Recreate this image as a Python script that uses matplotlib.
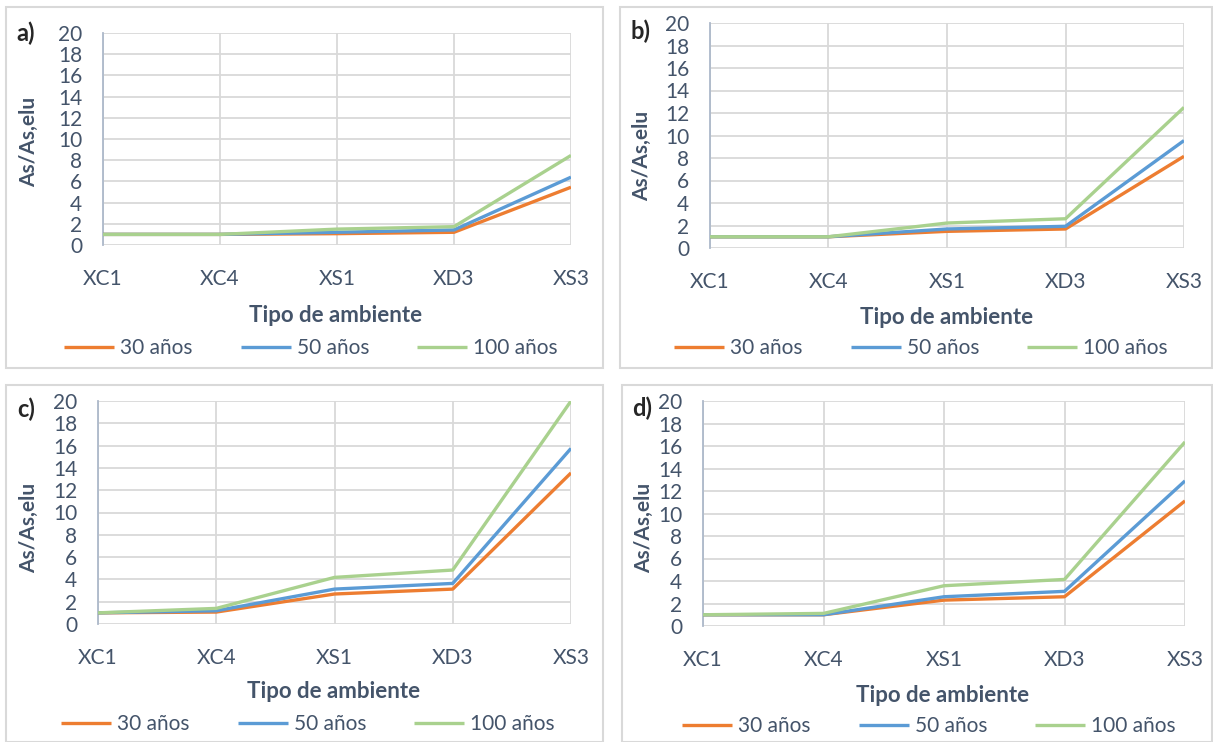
import matplotlib.pyplot as plt
from matplotlib.patches import Rectangle

plt.rcParams['font.family'] = ['Lato', 'DejaVu Sans']

ambientes = ['XC1', 'XC4', 'XS1', 'XD3', 'XS3']
series = ['30 años', '50 años', '100 años']
colores = ['#ED7D31', '#5B9BD5', '#A9D18E']

# As/As,elu por tipo de ambiente (30, 50, 100 años)
a_30 = [1.0, 1.0, 1.07, 1.2, 5.45]
a_50 = [1.0, 1.0, 1.2, 1.42, 6.4]
a_100 = [1.0, 1.0, 1.5, 1.73, 8.45]

b_30 = [1.0, 1.0, 1.48, 1.69, 8.15]
b_50 = [1.0, 1.0, 1.69, 1.93, 9.55]
b_100 = [1.0, 1.0, 2.22, 2.6, 12.5]

c_30 = [1.0, 1.07, 2.69, 3.13, 13.55]
c_50 = [1.0, 1.19, 3.13, 3.64, 15.75]
c_100 = [1.0, 1.4, 4.18, 4.84, 20.0]

d_30 = [1.0, 1.0, 2.3, 2.6, 11.12]
d_50 = [1.0, 1.0, 2.6, 3.08, 12.9]
d_100 = [1.0, 1.12, 3.58, 4.14, 16.36]

TXT = '#44546A'
W, H = 1213, 742
fig = plt.figure(figsize=(W / 100, H / 100), dpi=100)


def px(l, t, r, b):
    return [l / W, 1 - b / H, (r - l) / W, (b - t) / H]


def fpt(x, y):
    return (x / W, 1 - y / H)


paneles = [
    # letra, datos, marco, area de trazado, ylabel, letra, xlabel, leyenda (centros en px)
    ('a)', (a_30, a_50, a_100), (6, 7, 603, 368), (103, 33, 571, 245),
     (29, 142), (26, 33), (336, 315), (311, 348)),
    ('b)', (b_30, b_50, b_100), (620, 7, 1212, 368), (710, 23, 1184, 248),
     (642, 156), (640, 31), (947, 318), (921, 348)),
    ('c)', (c_30, c_50, c_100), (6, 385, 603, 742), (98, 401, 571, 624),
     (29, 528), (26, 409), (334, 692), (308, 724)),
    ('d)', (d_30, d_50, d_100), (622, 385, 1212, 742), (703, 401, 1185, 626),
     (644, 528), (642, 408), (943, 695), (929, 726)),
]

for letra, datos, marco, area, ylab, pos_letra, xlab, pos_ley in paneles:
    l, t, r, b = marco
    fig.add_artist(Rectangle((l / W, 1 - b / H), (r - l) / W, (b - t) / H,
                             transform=fig.transFigure, fill=False,
                             edgecolor='#D9D9D9', linewidth=1.5))

    ax = fig.add_axes(px(*area))
    for vals, nombre, col in zip(datos, series, colores):
        ax.plot(range(len(ambientes)), vals, color=col, linewidth=2.4,
                label=nombre, solid_capstyle='butt', zorder=3)

    ax.set_xlim(0, len(ambientes) - 1)
    ax.set_ylim(0, 20)
    ax.set_yticks(range(0, 21, 2))
    ax.set_xticks(range(len(ambientes)))
    ax.set_xticklabels(ambientes)
    ax.grid(True, color='#D9D9D9', linewidth=1.3)
    ax.set_axisbelow(True)
    for s in ['top', 'right', 'bottom']:
        ax.spines[s].set_visible(False)
    ax.spines['left'].set_color('#ADB9CA')
    ax.spines['left'].set_linewidth(1.3)
    ax.tick_params(length=0, labelsize=15, colors=TXT)
    ax.tick_params(axis='x', pad=17)
    ax.tick_params(axis='y', pad=15)

    ax.set_xlabel('Tipo de ambiente', fontsize=16, fontweight='bold', color=TXT)
    ax.xaxis.set_label_coords(*fpt(*xlab), transform=fig.transFigure)
    ax.xaxis.label.set_va('center')

    fig.text(*fpt(*ylab), 'As/As,elu', rotation=90, ha='center', va='center',
             fontsize=15, fontweight='bold', color=TXT)
    fig.text(*fpt(*pos_letra), letra, ha='center', va='center',
             fontsize=17, fontweight='bold', color='#262626')

    leg = fig.legend(*ax.get_legend_handles_labels(), loc='center',
                     bbox_to_anchor=fpt(*pos_ley), ncol=3, frameon=False,
                     fontsize=15, handlelength=2.4, handletextpad=0.3,
                     columnspacing=2.3, borderpad=0)
    for txt in leg.get_texts():
        txt.set_color(TXT)

fig.savefig('out.png', dpi=100)
